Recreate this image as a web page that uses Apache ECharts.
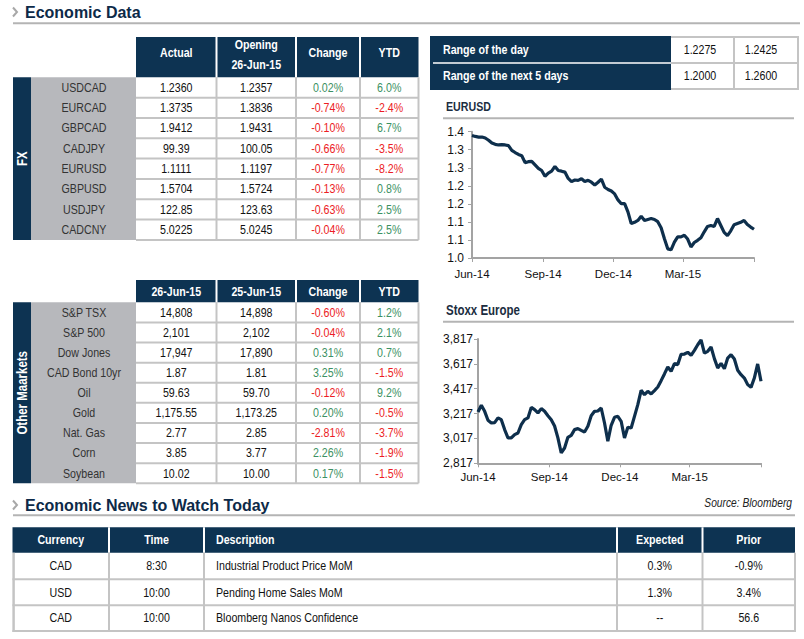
<!DOCTYPE html>
<html><head><meta charset="utf-8">
<script src="https://cdn.jsdelivr.net/npm/echarts@6/dist/echarts.min.js"></script>
<style>html,body{margin:0;padding:0;background:#fff;}#c{width:804px;height:639px;}</style>
</head><body><div id="c"></div>
<script>
// ---------------- DATA ----------------
const fxLabels  = ['USDCAD','EURCAD','GBPCAD','CADJPY','EURUSD','GBPUSD','USDJPY','CADCNY'];
const fxActual  = ['1.2360','1.3735','1.9412','99.39','1.1111','1.5704','122.85','5.0225'];
const fxOpening = ['1.2357','1.3836','1.9431','100.05','1.1197','1.5724','123.63','5.0245'];
const fxChange  = [0.02,-0.74,-0.10,-0.66,-0.77,-0.13,-0.63,-0.04];
const fxYtd     = [6.0,-2.4,6.7,-3.5,-8.2,0.8,2.5,2.5];
const fxHeaders = ['Actual',['Opening','26-Jun-15'],'Change','YTD'];

const mktLabels = ['S&P TSX','S&P 500','Dow Jones','CAD Bond 10yr','Oil','Gold','Nat. Gas','Corn','Soybean'];
const mktToday  = ['14,808','2,101','17,947','1.87','59.63','1,175.55','2.77','3.85','10.02'];
const mktPrev   = ['14,898','2,102','17,890','1.81','59.70','1,173.25','2.85','3.77','10.00'];
const mktChange = [-0.60,-0.04,0.31,3.25,-0.12,0.20,-2.81,2.26,0.17];
const mktYtd    = [1.2,2.1,0.7,-1.5,9.2,-0.5,-3.7,-1.9,-1.5];
const mktHeaders = ['26-Jun-15','25-Jun-15','Change','YTD'];

const rangeLabels = ['Range of the day','Range of the next 5 days'];
const rangeLow    = ['1.2275','1.2000'];
const rangeHigh   = ['1.2425','1.2600'];

const newsHeaders  = ['Currency','Time','Description','Expected','Prior'];
const newsCurrency = ['CAD','USD','CAD'];
const newsTime     = ['8:30','10:00','10:00'];
const newsDesc     = ['Industrial Product Price MoM','Pending Home Sales MoM','Bloomberg Nanos Confidence'];
const newsExpected = ['0.3%','1.3%','--'];
const newsPrior    = ['-0.9%','3.4%','56.6'];

// chart series: samples evenly spaced from 26-Jun-14 to 26-Jun-15
const eurusd = [1.388,1.385,1.383,1.383,1.380,1.373,1.364,1.360,1.358,1.359,
  1.358,1.356,1.341,1.334,1.328,1.324,1.302,1.305,1.306,1.295,
  1.284,1.277,1.259,1.269,1.275,1.290,1.277,1.275,1.272,1.252,
  1.242,1.247,1.246,1.251,1.242,1.246,1.240,1.231,1.240,1.250,
  1.224,1.217,1.212,1.203,1.184,1.172,1.172,1.146,1.109,1.113,
  1.119,1.132,1.119,1.122,1.125,1.122,1.115,1.096,1.061,1.029,
  1.026,1.050,1.067,1.067,1.072,1.060,1.035,1.049,1.056,1.064,
  1.083,1.100,1.103,1.100,1.125,1.103,1.081,1.071,1.086,1.105,
  1.109,1.113,1.119,1.106,1.098,1.091];
const stoxx = [3230,3284,3235,3163,3141,3144,3182,3168,3088,3021,
  3021,3048,3061,3128,3168,3182,3267,3249,3222,3257,
  3235,3200,3168,3117,3021,2900,2940,3026,3042,3088,
  3096,3082,3069,3115,3200,3235,3238,3262,3141,2994,
  3123,3187,3195,3155,3021,3107,3101,3195,3289,3404,
  3369,3396,3375,3402,3431,3482,3536,3592,3557,3619,
  3611,3694,3696,3710,3686,3726,3771,3809,3704,3718,
  3753,3659,3584,3621,3578,3664,3691,3656,3565,3530,
  3503,3450,3428,3503,3616,3477];
const spanDays = 365;
const dateTicks  = [0,92,183,273,365];
const dateLabels = ['Jun-14','Sep-14','Dec-14','Mar-15',''];
const eurTicks   = [1.0,1.0571,1.1143,1.1714,1.2286,1.2857,1.3429,1.4];
const stoxxTicks = [2817,3017,3217,3417,3617,3817];

// ---------------- STYLE ----------------
const FONT = 'Liberation Sans';
const NARROW = 0.82;              // horizontal squeeze to mimic the narrow face
const BODY = 13, HEAD = 13;
const NAVY='#0d3352', LGREY='#b7b8bc', BORDER='#c4c4c4', GREEN='#3c9163', RED='#ec1c24', TXT='#111111';

const G=[];
const rect=(x,y,w,h,fill)=>G.push({type:'rect',silent:true,shape:{x,y,width:w,height:h},style:{fill}});
const line=(x1,y1,x2,y2,stroke,lw)=>G.push({type:'line',silent:true,shape:{x1,y1,x2,y2},style:{stroke,lineWidth:lw}});
const text=(x,y,t,o={})=>G.push({type:'text',silent:true,x,y,rotation:o.rot||0,scaleX:o.sx||NARROW,scaleY:1,style:{text:t,fill:o.color||TXT,
  fontSize:o.size||BODY,fontWeight:o.weight||'normal',fontStyle:o.italic?'italic':'normal',fontFamily:FONT,
  align:o.align||'center',verticalAlign:'middle',textAlign:o.align||'center',textVerticalAlign:'middle'}});
const chevron=(x,y)=>G.push({type:'polyline',silent:true,shape:{points:[[x,y-4.5],[x+4,y],[x,y+4.5]]},style:{stroke:'#a8a8a8',lineWidth:2,fill:null}});
const pct=(v,d)=>v.toFixed(d)+'%';
const col=v=>v>=0?GREEN:RED;

// section titles
chevron(13,12); text(25,12,'Economic Data',{sx:1,size:16,weight:'bold',color:'#0d2a48',align:'left'});
line(13,23.3,800,23.3,'#b4b4b4',2);
chevron(13,505); text(25,505,'Economic News to Watch Today',{sx:1,size:16,weight:'bold',color:'#0d2a48',align:'left'});
line(13,515.2,795,515.2,'#b4b4b4',2);
text(792,503,'Source: Bloomberg',{italic:true,align:'right',size:12.5,color:'#222'});

// generic market table
const cols=[136,216.5,296,360,418.5];
function marketTable(hTop,hBot,headers,side,labels,c1,c2,chg,ytd,rowH){
  for(let k=0;k<4;k++) rect(cols[k],hTop,cols[k+1]-cols[k],hBot-hTop,NAVY);
  for(let k=1;k<4;k++) line(cols[k],hTop,cols[k],hBot,'#ffffff',2);
  headers.forEach((h,k)=>{
    const cx=(cols[k]+cols[k+1])/2;
    if(Array.isArray(h)){ text(cx,hTop+8,h[0],{color:'#fff',weight:'bold',size:HEAD}); text(cx,hTop+28,h[1],{color:'#fff',weight:'bold',size:HEAD}); }
    else text(cx,hTop+(hBot-hTop>30?16:(hBot-hTop)/2),h,{color:'#fff',weight:'bold',size:HEAD});
  });
  const n=labels.length, bot=hBot+n*rowH;
  rect(13,hBot,18,bot-hBot,NAVY);
  rect(31,hBot,cols[0]-31,bot-hBot,LGREY);
  text(22,(hBot+bot)/2,side,{color:'#fff',weight:'bold',size:14,rot:Math.PI/2});
  for(let r=1;r<=n;r++){ const y=hBot+r*rowH; line(cols[0],y,cols[4],y,BORDER,2); }
  for(let k=1;k<=4;k++) line(cols[k],hBot,cols[k],bot,BORDER,2);
  labels.forEach((l,r)=>{
    const cy=hBot+(r+0.5)*rowH;
    text(84,cy,l,{color:'#333333'});
    text((cols[0]+cols[1])/2,cy,c1[r]);
    text((cols[1]+cols[2])/2,cy,c2[r]);
    text((cols[2]+cols[3])/2,cy,pct(chg[r],2),{color:col(chg[r])});
    text((cols[3]+cols[4])/2,cy,pct(ytd[r],1),{color:col(ytd[r])});
  });
}
marketTable(37,77.3,fxHeaders,'FX',fxLabels,fxActual,fxOpening,fxChange,fxYtd,20.33);
marketTable(280,302.3,mktHeaders,'Other Maarkets',mktLabels,mktToday,mktPrev,mktChange,mktYtd,20.11);

// range table
rect(430,36,241,54,NAVY);
line(433,63,671,63,'#ffffff',1.5);
rangeLabels.forEach((l,r)=>{
  const cy=50+r*26;
  text(443,cy,l,{color:'#fff',weight:'bold',size:HEAD,align:'left'});
  text(700,cy,rangeLow[r]);
  text(761,cy,rangeHigh[r]);
});
[37,63,89].forEach(y=>line(671,y,799,y,BORDER,2));
[734,798].forEach(x=>line(x,36,x,90,BORDER,2));

// chart titles
text(446,106.5,'EURUSD',{weight:'bold',size:13,color:'#1b2d40',align:'left'});
line(443,118.2,794,118.2,'#b4b4b4',2);
text(446,310.5,'Stoxx Europe',{weight:'bold',size:14,color:'#1b2d40',align:'left'});
line(443,321.8,794,321.8,'#b4b4b4',2);

// news table
const bx=[12.5,109,204,617,702.5,795];
rect(bx[0],527.3,bx[5]-bx[0],25.4,NAVY);
for(let k=1;k<5;k++) line(bx[k],527.3,bx[k],552.7,'#ffffff',2);
newsHeaders.forEach((h,k)=>{
  if(k===2) text(bx[2]+12,540,h,{color:'#fff',weight:'bold',size:HEAD,align:'left'});
  else text((bx[k]+bx[k+1])/2,540,h,{color:'#fff',weight:'bold',size:HEAD});
});
const ny=[552.7,579.2,605.2,631];
for(let r=1;r<ny.length;r++) line(bx[0],ny[r],bx[5],ny[r],BORDER,2);
for(let k=0;k<6;k++) line(k===0?13.6:bx[k],552.7,k===0?13.6:bx[k],632,BORDER,k===0?2.5:2);
newsCurrency.forEach((c,r)=>{
  const cy=(ny[r]+ny[r+1])/2;
  text((bx[0]+bx[1])/2,cy,c);
  text((bx[1]+bx[2])/2,cy,newsTime[r]);
  text(bx[2]+12,cy,newsDesc[r],{align:'left'});
  text((bx[3]+bx[4])/2,cy,newsExpected[r]);
  text((bx[4]+bx[5])/2,cy,newsPrior[r]);
});

// ---------------- CHARTS ----------------
const axisGrey='#a3a3a3';
function xAx(gi){return {gridIndex:gi,type:'value',min:0,max:spanDays,
  axisLine:{show:true,lineStyle:{color:axisGrey,width:2}},
  axisTick:{show:true,customValues:dateTicks,length:4,lineStyle:{color:axisGrey,width:1}},
  axisLabel:{show:true,customValues:dateTicks,formatter:v=>dateLabels[dateTicks.indexOf(v)]||'',color:TXT,fontSize:11.5,fontFamily:FONT,margin:gi===0?10:8},
  splitLine:{show:false}};}
function yAx(gi,min,max,ticks,fmt,margin){return {gridIndex:gi,type:'value',min,max,
  axisLine:{show:true,lineStyle:{color:axisGrey,width:2}},
  axisTick:{show:true,customValues:ticks,length:4,lineStyle:{color:axisGrey,width:1}},
  axisLabel:{show:true,customValues:ticks,formatter:fmt,color:TXT,fontSize:12,fontFamily:FONT,margin},
  splitLine:{show:false}};}
const step=spanDays/(eurusd.length-1);
const chart=echarts.init(document.getElementById('c'),null,{renderer:'svg',width:804,height:639});
chart.setOption({
  animation:false,
  backgroundColor:'#ffffff',
  graphic:{elements:G},
  grid:[{left:472,top:131.7,width:282,height:126.3},{left:478,top:339,width:283,height:124.3}],
  xAxis:[xAx(0),xAx(1)],
  yAxis:[yAx(0,1.0,1.4,eurTicks,v=>v.toFixed(1),8),yAx(1,2817,3817,stoxxTicks,v=>v.toLocaleString('en-US'),5)],
  series:[
    {type:'line',xAxisIndex:0,yAxisIndex:0,symbol:'none',data:eurusd.map((v,i)=>[i*step,v]),lineStyle:{color:'#0e2f4c',width:3.2}},
    {type:'line',xAxisIndex:1,yAxisIndex:1,symbol:'none',data:stoxx.map((v,i)=>[i*(spanDays/(stoxx.length-1)),v]),lineStyle:{color:'#0e2f4c',width:3.2}}
  ]
});
</script></body></html>
